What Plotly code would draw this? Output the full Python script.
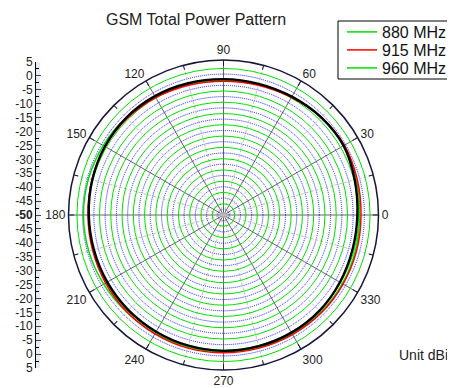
import plotly.graph_objects as go

# page offset: the figure div sits 8 px inside the browser window
OFF = 8
W, H = 455 - OFF, 388 - OFF

def px(x):
    return (x - OFF) / W

def py(y):
    return 1 - (y - OFF) / H

angles = list(range(0, 360, 15))
g880 = [-1.7, -1.2, -0.6, -0.9, -1.6, -2.0, -2.2, -2.0, -1.6, -1.1, -0.7, -0.4,
        -0.3, -0.5, -0.9, -1.3, -1.5, -1.5, -1.4, -1.4, -1.3, -1.2, -1.3, -1.5]
g915 = [-1.2, -0.9, -0.5, -1.0, -1.8, -2.3, -2.5, -2.3, -1.9, -1.6, -1.5, -1.7,
        -1.9, -1.9, -1.7, -1.5, -1.3, -1.1, -1.1, -1.1, -1.0, -0.9, -1.0, -1.1]
g960 = [-2.5, -1.8, -0.8, -1.0, -1.5, -1.8, -1.8, -1.6, -1.3, -1.2, -1.4, -1.8,
        -2.2, -2.4, -2.4, -2.3, -2.2, -2.0, -1.8, -1.8, -1.8, -1.9, -2.3, -2.6]

r_min, r_max = -50, 5
blue_levels = [v for v in range(-48, 1, 4)]
green_levels = [v for v in range(-46, 3, 4)]
major_angles = list(range(0, 360, 30))
minor_angles = list(range(15, 360, 30))
left_ticks = list(range(-55, 56, 5))
left_text = [("<b>-50</b>" if v == 0 else str(abs(v) - 50)) for v in left_ticks]

FONT = "Liberation Sans, Arial, sans-serif"

def closed(a):
    return a + a[:1]

fig = go.Figure()
fig.add_trace(go.Scatterpolar(r=[None], theta=[None], mode="lines", showlegend=False,
                              hoverinfo="skip", subplot="polar"))
series = [("880 MHz", g880, "#00e000", 1.5, "legend"),
          ("915 MHz", g915, "#ff0000", 1.5, "legend2"),
          ("960 MHz", g960, "#000000", 2.4, None)]
for name, vals, col, w, leg in series:
    fig.add_trace(go.Scatterpolar(r=closed(vals), theta=closed(angles), mode="lines",
                                  line=dict(color=col, width=w, shape="spline"),
                                  name=name, showlegend=leg is not None,
                                  legend=leg or "legend", subplot="polar2"))
# legend entry as drawn in the reference legend (green swatch for 960 MHz)
fig.add_trace(go.Scatterpolar(r=[None], theta=[None], mode="lines", name="960 MHz",
                              line=dict(color="#00e000", width=1.5), subplot="polar2",
                              legend="legend3"))

fig.add_trace(go.Scatter(x=[None], y=[None], xaxis="x", yaxis="y", showlegend=False))

cx, cy, R = 223.5, 215, 155
dom_x = [px(cx - R), px(cx + R)]
dom_y = [py(cy + R), py(cy - R)]

leg_common = dict(xanchor="left", yanchor="middle", bgcolor="rgba(0,0,0,0)",
                  borderwidth=0, font=dict(size=16, color="#111"), itemwidth=30)

fig.update_layout(
    width=W, height=H,
    margin=dict(l=0, r=0, t=0, b=0, pad=0, autoexpand=False),
    paper_bgcolor="white",
    font=dict(family=FONT, color="#222", size=12),
    showlegend=True,
    legend=dict(x=px(342), y=py(32), **leg_common),
    legend2=dict(x=px(342), y=py(50), **leg_common),
    legend3=dict(x=px(342), y=py(68), **leg_common),
    shapes=[dict(type="rect", xref="paper", yref="paper", x0=px(338), x1=px(456),
                 y0=py(79), y1=py(21), line=dict(color="#000", width=1),
                 fillcolor="rgba(0,0,0,0)", layer="below")],
    polar=dict(
        domain=dict(x=dom_x, y=dom_y),
        bgcolor="white",
        radialaxis=dict(range=[r_min, r_max], tickvals=blue_levels, showticklabels=False,
                        ticks="", showline=False, gridcolor="#1a1aff", griddash="1px,1px",
                        gridwidth=1),
        angularaxis=dict(rotation=0, direction="counterclockwise", tickvals=major_angles,
                         ticktext=[str(a) for a in major_angles], gridcolor="#666",
                         gridwidth=1, showline=True, linecolor="#15153a", linewidth=1.5,
                         ticks="inside", ticklen=5, tickcolor="#15153a",
                         tickfont=dict(size=12, color="#222")),
    ),
    polar2=dict(
        domain=dict(x=dom_x, y=dom_y),
        bgcolor="rgba(0,0,0,0)",
        radialaxis=dict(range=[r_min, r_max], tickvals=green_levels, showticklabels=False,
                        ticks="", showline=False, gridcolor="#00e000", gridwidth=1),
        angularaxis=dict(rotation=0, direction="counterclockwise", tickvals=minor_angles,
                         showticklabels=False, gridcolor="#c0c0c0", griddash="3px,2px",
                         gridwidth=1, showline=False, ticks="inside", ticklen=4,
                         tickcolor="#15153a"),
    ),
    xaxis=dict(domain=[px(36), px(40)], visible=False, range=[0, 1]),
    yaxis=dict(domain=[py(368), py(62)], range=[-55, 55], anchor="free", position=px(35),
               tickvals=left_ticks, ticktext=left_text, ticks="inside", ticklen=5,
               showline=True, linecolor="#000", linewidth=1, showgrid=False, zeroline=False,
               automargin=False,
               tickfont=dict(size=12, color="#222"),
               minor=dict(dtick=2.5, tick0=0, ticks="inside", ticklen=3, tickcolor="#000")),
    annotations=[
        dict(text="GSM Total Power Pattern", x=px(196), y=py(20), xref="paper",
             yref="paper", xanchor="center", yanchor="middle", showarrow=False,
             font=dict(size=16, color="#222")),
        dict(text="Unit dBi", x=px(450), y=py(355), xref="paper", yref="paper",
             xanchor="right", yanchor="middle", showarrow=False,
             font=dict(size=14, color="#222")),
    ],
)

fig.write_html("out.html")
